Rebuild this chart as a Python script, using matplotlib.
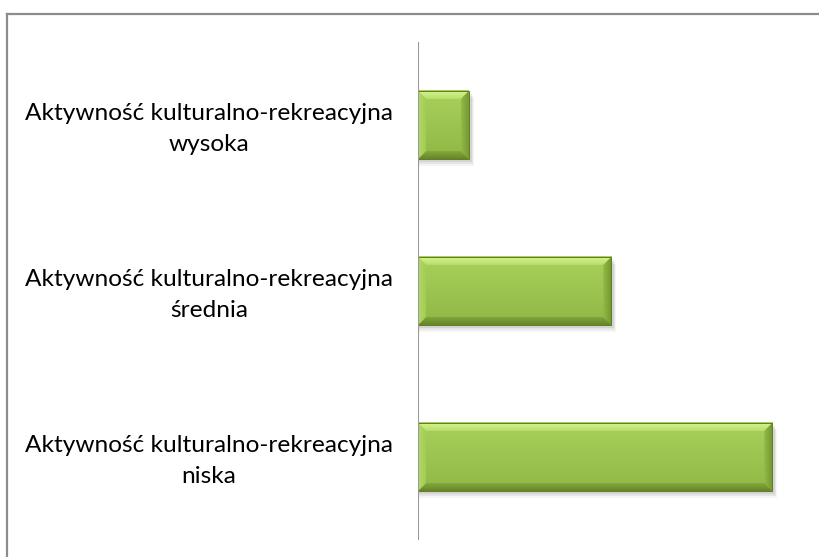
import matplotlib
matplotlib.use("Agg")
import matplotlib.pyplot as plt
import numpy as np
from matplotlib.patches import Polygon, Rectangle
from matplotlib.lines import Line2D

categories = ["Aktywność kulturalno-rekreacyjna\nniska",
              "Aktywność kulturalno-rekreacyjna\nśrednia",
              "Aktywność kulturalno-rekreacyjna\nwysoka"]
values = [59.2, 32.3, 8.5]

W, H = 819, 557
fig = plt.figure(figsize=(W / 100, H / 100), dpi=100)
ax_l, ax_r, ax_t, ax_b = 418, 795, 42, 540
ax = fig.add_axes([ax_l / W, 1 - ax_b / H, (ax_r - ax_l) / W, (ax_b - ax_t) / H])
xmax = 63.0
ax.set_xlim(0, xmax)
ax.set_ylim(-0.5, 2.5)
ax.axis("off")

pos = np.arange(len(categories))
bh = 0.41
bars = ax.barh(pos, values, height=bh, color="none", edgecolor="none", zorder=3)

px_x = xmax / (ax_r - ax_l)
px_y = 3.0 / (ax_b - ax_t)
b = 8  # bevel in pixels
bx, by = b * px_x, b * px_y

t = np.linspace(0, 1, 64).reshape(-1, 1, 1)
top_c = np.array([0.66, 0.82, 0.36])
bot_c = np.array([0.56, 0.72, 0.27])
face = top_c * (1 - t) + bot_c * t


def grad_poly(pts, c_start, c_end, vertical=True, z=4):
    poly = Polygon(pts, closed=True, facecolor="none", edgecolor="none", zorder=z)
    ax.add_patch(poly)
    xs = [p[0] for p in pts]
    ys = [p[1] for p in pts]
    s = np.linspace(0, 1, 32)
    c0, c1 = np.array(c_start), np.array(c_end)
    if vertical:
        img = (c0 * (1 - s[:, None]) + c1 * s[:, None]).reshape(32, 1, 3)
    else:
        img = (c0 * (1 - s[:, None]) + c1 * s[:, None]).reshape(1, 32, 3)
    im = ax.imshow(img, extent=[min(xs), max(xs), min(ys), max(ys)], aspect="auto",
                   zorder=z, interpolation="bilinear")
    im.set_clip_path(poly)


for rect in bars.patches:
    x0, y0 = rect.get_x(), rect.get_y()
    x1, y1 = x0 + rect.get_width(), y0 + rect.get_height()
    # soft shadow
    for k, a in [(7, 0.04), (5, 0.06), (3, 0.08)]:
        ax.add_patch(Rectangle((x0 + 1 * px_x, y0 - k * px_y), (x1 - x0) + k * 0.6 * px_x,
                               (y1 - y0), facecolor="black", alpha=a, edgecolor="none", zorder=1))
    ax.imshow(face, extent=[x0, x1, y0, y1], aspect="auto", zorder=2, interpolation="bilinear")
    grad_poly([(x0, y1), (x1, y1), (x1 - bx, y1 - by), (x0 + bx, y1 - by)],
              (0.84, 0.95, 0.56), (0.72, 0.87, 0.42))
    grad_poly([(x0, y0), (x1, y0), (x1 - bx, y0 + by), (x0 + bx, y0 + by)],
              (0.52, 0.66, 0.24), (0.40, 0.52, 0.16))
    grad_poly([(x0, y0), (x0, y1), (x0 + bx, y1 - by), (x0 + bx, y0 + by)],
              (0.70, 0.86, 0.40), (0.64, 0.80, 0.34), vertical=False)
    grad_poly([(x1, y0), (x1, y1), (x1 - bx, y1 - by), (x1 - bx, y0 + by)],
              (0.58, 0.73, 0.28), (0.46, 0.60, 0.20), vertical=False)
    ax.add_patch(Rectangle((x0, y0), x1 - x0, y1 - y0, facecolor="none",
                           edgecolor="#5F7C22", lw=0.7, zorder=5))

ax.set_xlim(0, xmax)
ax.set_ylim(-0.5, 2.5)

# vertical axis line
ax.axvline(0, color="#999999", lw=1.5, zorder=6)

# category labels
for p, lab in zip(pos, categories):
    ax.text(-(418 - 209) * px_x, p - 4 * px_y, lab,
            ha="center", va="center", fontsize=17.6, family="Lato",
            linespacing=1.55, color="#000000", clip_on=False)

# outer border (left and top)
fig.add_artist(Line2D([6.5 / W, 6.5 / W], [0, 1 - 13.5 / H], transform=fig.transFigure,
                      color="#8C8C8C", lw=1.6))
fig.add_artist(Line2D([6.5 / W, 1.0], [1 - 13.5 / H, 1 - 13.5 / H], transform=fig.transFigure,
                      color="#8C8C8C", lw=1.6))

fig.savefig("out.png", dpi=100)
